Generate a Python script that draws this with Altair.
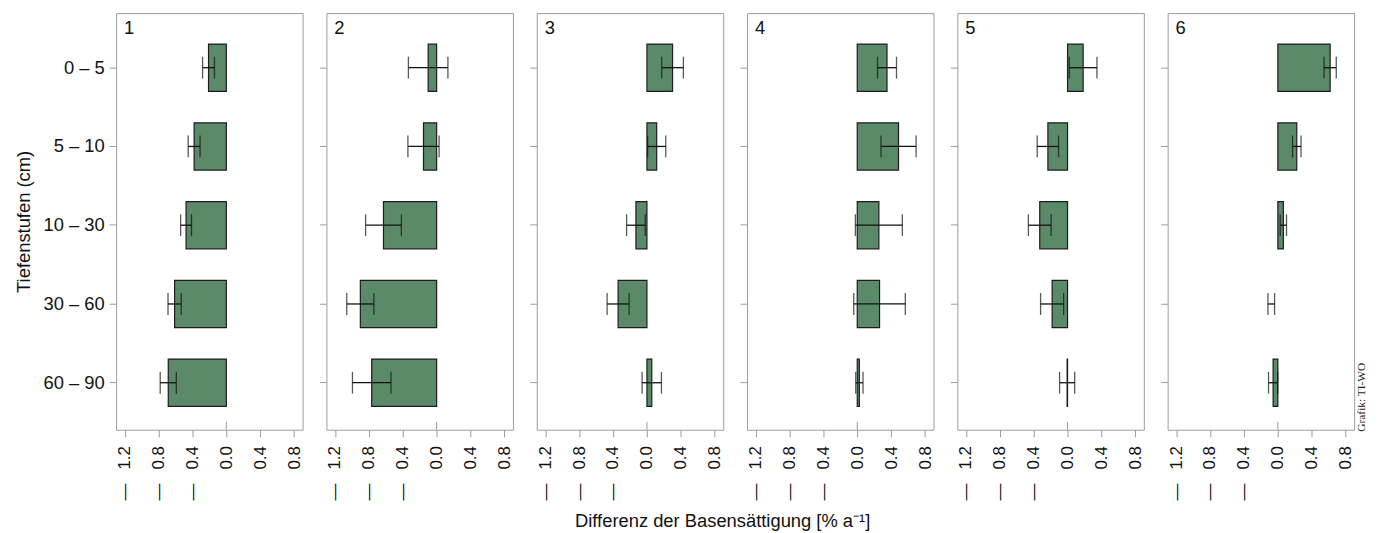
import altair as alt
import pandas as pd

depths = ["0 – 5", "5 – 10", "10 – 30", "30 – 60", "60 – 90"]
panels = ["1", "2", "3", "4", "5", "6"]

# mean change per depth (centre of the error bar)
means = [
    [-0.21, -0.38, -0.475, -0.61, -0.685],
    [-0.10, -0.155, -0.627, -0.90, -0.766],
    [0.302, 0.115, -0.13, -0.34, 0.057],
    [0.351, 0.487, 0.255, 0.263, 0.025],
    [0.184, -0.232, -0.328, -0.182, -0.005],
    [0.617, 0.223, 0.065, -0.078, -0.056],
]
# half-width of the error bars
errors = [
    [0.07, 0.07, 0.064, 0.078, 0.095],
    [0.233, 0.184, 0.211, 0.16, 0.227],
    [0.128, 0.107, 0.11, 0.13, 0.114],
    [0.112, 0.207, 0.277, 0.304, 0.043],
    [0.163, 0.126, 0.134, 0.136, 0.089],
    [0.072, 0.05, 0.037, 0.039, 0.054],
]
# bars that are not drawn (only the error bar is shown)
no_bar = [("6", "30 – 60")]

x_ticks = [-1.2, -0.8, -0.4, 0.0, 0.4, 0.8]

FONT = "Liberation Sans"
FS = 18.5
XFS = 17
GRAY = "#9c9c9c"
FILL = "#5a8a68"
W, H = 188, 420

xscale = alt.Scale(domain=[-1.3, 0.9], nice=False, zero=False)
yscale = alt.Scale(domain=depths, paddingInner=0.4, paddingOuter=0.345, align=0.57)

label_expr = ("datum.value < -0.01 ? '\u2014\u00a0\u00a0\u00a0' + format(-datum.value, '.1f')"
              " : format(abs(datum.value), '.1f')")

xaxis = alt.Axis(values=x_ticks, labelExpr=label_expr, title=None,
                 labelAngle=270, domain=False, tickSize=7, tickColor=GRAY,
                 labelPadding=9, labelFontSize=XFS, labelColor="#111",
                 grid=False, labelFlush=False, labelOverlap=False,
                 labelBound=False, labelFont=FONT)


def panel(i):
    p = panels[i]
    rows = []
    for d, m, e in zip(depths, means[i], errors[i]):
        rows.append({
            "depth": d,
            "bar": None if (p, d) in no_bar else m,
            "lo": m - e,
            "hi": m + e,
        })
    df = pd.DataFrame(rows)

    if i == 0:
        yaxis = alt.Axis(title="Tiefenstufen (cm)", domain=False, ticks=True,
                         tickSize=7, tickColor=GRAY, labelPadding=5,
                         labelFontSize=FS, titleFontSize=FS, labelFont=FONT,
                         titleFont=FONT, titleFontWeight="normal", titlePadding=10,
                         labelColor="#111", titleColor="#111")
    else:
        yaxis = alt.Axis(title=None, labels=False, domain=False, ticks=True,
                         tickSize=7, tickColor=GRAY)

    y = alt.Y("depth:N", sort=depths, scale=yscale, axis=yaxis, title=None)

    bars = alt.Chart(df).transform_filter("isValid(datum.bar)").mark_bar(
        fill=FILL, stroke="#1c1c1c", strokeWidth=1.2
    ).encode(x=alt.X("bar:Q", scale=xscale, axis=xaxis, title=None), y=y)

    rule = alt.Chart(df).mark_rule(color="#111", strokeWidth=1.3).encode(
        x=alt.X("lo:Q", scale=xscale, axis=xaxis, title=None), x2="hi:Q", y=y)

    caps = alt.Chart(df).transform_fold(["lo", "hi"], as_=["k", "v"]).mark_tick(
        color="#111", size=22, thickness=1.3
    ).encode(x=alt.X("v:Q", scale=xscale, axis=xaxis, title=None), y=y)

    zero = alt.Chart(pd.DataFrame({"z": [0.0]})).mark_rule(
        color=GRAY, strokeWidth=1
    ).encode(x=alt.X("z:Q", scale=xscale, axis=xaxis, title=None),
             y=alt.value(H - 8), y2=alt.value(H))

    lab = alt.Chart(pd.DataFrame({"t": [p]})).mark_text(
        align="left", baseline="top", fontSize=FS, font=FONT, color="#111"
    ).encode(text="t:N", x=alt.value(8), y=alt.value(6))

    layers = [bars, rule, caps, zero, lab]
    if i == len(panels) - 1:
        credit = alt.Chart(pd.DataFrame({"t": ["Grafik: TI-WO"]})).mark_text(
            align="left", baseline="middle", angle=270, fontSize=11.5,
            font="Liberation Serif", color="#222"
        ).encode(text="t:N", x=alt.value(W + 8), y=alt.value(H + 2))
        layers.append(credit)
    return alt.layer(*layers).properties(width=W, height=H)


chart = alt.hconcat(*[panel(i) for i in range(len(panels))], spacing=15).properties(
    title=alt.TitleParams("Differenz der Basensättigung [% a⁻¹]", orient="bottom",
                          anchor="middle", fontSize=FS, font=FONT,
                          fontWeight="normal", color="#111", offset=12, dx=32),
    padding={"left": 5, "top": 2, "right": 5, "bottom": 2},
).configure(font=FONT).configure_view(stroke=GRAY, strokeWidth=1).configure_axis(
    labelFont=FONT, titleFont=FONT
)

chart.save("out.html", embed_options={"renderer": "svg", "actions": False})
